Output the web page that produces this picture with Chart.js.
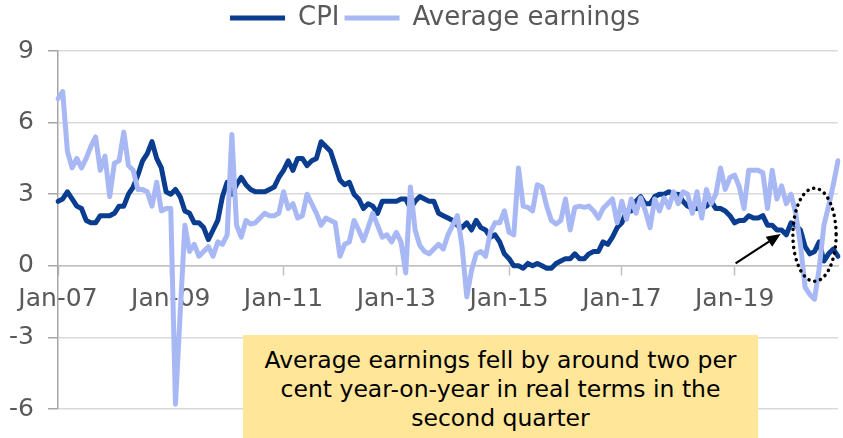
<!DOCTYPE html>
<html>
<head>
<meta charset="utf-8">
<script src="https://cdn.jsdelivr.net/npm/chart.js@4.4.1/dist/chart.umd.min.js"></script>
<style>
html,body{margin:0;padding:0;background:#ffffff;}
#wrap{position:relative;width:843px;height:438px;overflow:hidden;}
#note{position:absolute;left:243px;top:335px;width:515px;height:110px;background:#FFE699;color:#000;
  font-family:"DejaVu Sans",sans-serif;font-size:23.5px;line-height:28.8px;text-align:center;padding-top:11px;box-sizing:border-box;white-space:nowrap;}
</style>
</head>
<body>
<div id="wrap">
  <canvas id="chart" width="843" height="438"></canvas>
  <div id="note">Average earnings fell by around two per<br>cent year-on-year in real terms in the<br>second quarter</div>
</div>
<script>
// ---- data ----
const monthNames = ['Jan','Feb','Mar','Apr','May','Jun','Jul','Aug','Sep','Oct','Nov','Dec'];
const years = ['07','08','09','10','11','12','13','14','15','16','17','18','19','20'];

const cpi = [
  2.7, 2.8, 3.1, 2.8, 2.5, 2.4, 1.9, 1.8, 1.8, 2.1, 2.1, 2.1,   // 2007
  2.2, 2.5, 2.5, 3.0, 3.3, 3.8, 4.4, 4.7, 5.2, 4.5, 4.1, 3.1,   // 2008
  3.0, 3.2, 2.9, 2.3, 2.2, 1.8, 1.8, 1.6, 1.1, 1.5, 1.9, 2.9,   // 2009
  3.5, 3.0, 3.4, 3.7, 3.4, 3.2, 3.1, 3.1, 3.1, 3.2, 3.3, 3.7,   // 2010
  4.0, 4.4, 4.0, 4.5, 4.5, 4.2, 4.4, 4.5, 5.2, 5.0, 4.8, 4.2,   // 2011
  3.6, 3.4, 3.5, 3.0, 2.8, 2.4, 2.6, 2.5, 2.2, 2.7, 2.7, 2.7,   // 2012
  2.7, 2.8, 2.8, 2.4, 2.7, 2.9, 2.8, 2.7, 2.7, 2.2, 2.1, 2.0,   // 2013
  1.9, 1.7, 1.6, 1.8, 1.5, 1.9, 1.6, 1.5, 1.2, 1.3, 1.0, 0.5,   // 2014
  0.3, 0.0, 0.0, -0.1, 0.1, 0.0, 0.1, 0.0, -0.1, -0.1, 0.1, 0.2, // 2015
  0.3, 0.3, 0.5, 0.3, 0.3, 0.5, 0.6, 0.6, 1.0, 0.9, 1.2, 1.6,   // 2016
  1.8, 2.3, 2.3, 2.7, 2.9, 2.6, 2.6, 2.9, 3.0, 3.0, 3.1, 3.0,   // 2017
  3.0, 2.7, 2.5, 2.4, 2.4, 2.4, 2.5, 2.7, 2.4, 2.4, 2.3, 2.1,   // 2018
  1.8, 1.9, 1.9, 2.1, 2.0, 2.0, 2.1, 1.7, 1.7, 1.5, 1.5, 1.3,   // 2019
  1.8, 1.7, 1.5, 0.8, 0.5, 0.6, 1.0, 0.2, 0.5, 0.7, 0.4         // 2020
];

const earnings = [
  7.0, 7.3, 4.8, 4.1, 4.5, 4.1, 4.5, 5.0, 5.4, 4.0, 4.6, 2.9,   // 2007
  4.3, 4.4, 5.6, 4.2, 4.0, 3.2, 3.2, 3.1, 2.5, 3.5, 2.3, 2.4,   // 2008
  2.4, -5.8, -2.0, 1.7, 0.6, 0.9, 0.4, 0.6, 0.8, 0.4, 1.0, 0.9, // 2009
  1.3, 5.5, 1.7, 1.2, 1.9, 1.75, 1.8, 2.0, 2.2, 2.1, 2.1, 2.2,  // 2010
  3.1, 2.4, 2.6, 2.0, 2.1, 3.0, 2.6, 2.2, 1.7, 2.0, 1.9, 1.8,   // 2011
  0.4, 0.9, 1.0, 1.9, 1.5, 1.05, 1.6, 2.2, 1.7, 1.2, 1.3, 1.0,  // 2012
  1.4, 1.0, -0.3, 3.3, 1.5, 0.85, 0.6, 0.5, 0.7, 0.9, 0.7, 1.3, // 2013
  1.7, 2.1, 0.8, -1.3, -0.2, 0.5, 0.6, 0.4, 1.4, 1.8, 1.8, 2.3, // 2014
  1.4, 1.3, 4.1, 2.5, 2.45, 2.3, 3.4, 3.3, 2.5, 1.9, 1.75, 1.9, // 2015
  2.8, 1.5, 2.45, 2.5, 2.45, 2.5, 2.3, 2.0, 2.4, 2.6, 2.8, 1.8, // 2016
  2.7, 1.95, 2.8, 2.2, 2.85, 2.3, 1.6, 2.8, 2.3, 2.85, 2.45, 3.1, // 2017
  2.6, 3.1, 3.0, 2.2, 3.1, 2.0, 3.2, 2.6, 3.0, 4.1, 3.2, 3.7,   // 2018
  3.8, 3.3, 2.4, 4.0, 4.0, 4.0, 3.9, 2.4, 4.0, 2.8, 3.35, 2.6,  // 2019
  3.0, 2.2, 0.9, -0.9, -1.2, -1.4, -0.1, 1.7, 2.5, 3.4, 4.4     // 2020
];

const xTickLabels = ['Jan-07','Jan-09','Jan-11','Jan-13','Jan-15','Jan-17','Jan-19'];
const yMin = -6, yMax = 9, yStep = 3;

// month categories Jan-07 ... (as many as data points)
const categories = [];
years.forEach(y => monthNames.forEach(m => categories.push(m + '-' + y)));
categories.length = cpi.length;

// ---- styling ----
const FONT = '"DejaVu Sans", sans-serif';
const TEXT = '#595959';
const CPI_COLOR = '#0A3C8F';
const AE_COLOR = '#A8B8F4';

// annotation anchors (category index, value)
const arrowFrom = {m: 144.2, v: 0.1};
const arrowTo = {m: 153.8, v: 1.33};
const ring = {m: 161.0, v: 1.3, dm: 4.6, dv: 1.95};

const legendBox = {
  id: 'legendBox',
  beforeInit(chart) {
    const orig = chart.legend.fit;
    chart.legend.fit = function () { orig.call(this); this.height = 51; };
  },
  beforeDraw(chart) {
    chart.legend.left = 32;   // centre the legend over the plot as in the reference
  }
};

const annotate = {
  id: 'annotate',
  afterDatasetsDraw(chart) {
    const {ctx} = chart;
    const x = chart.scales.x, y = chart.scales.y;
    ctx.save();
    // arrow
    const x1 = x.getPixelForValue(arrowFrom.m), y1 = y.getPixelForValue(arrowFrom.v);
    const x2 = x.getPixelForValue(arrowTo.m), y2 = y.getPixelForValue(arrowTo.v);
    const ang = Math.atan2(y2 - y1, x2 - x1);
    const hl = 14, hw = 6;
    const bx = x2 - hl * Math.cos(ang), by = y2 - hl * Math.sin(ang);
    ctx.strokeStyle = '#000'; ctx.fillStyle = '#000'; ctx.lineWidth = 2.2;
    ctx.beginPath(); ctx.moveTo(x1, y1); ctx.lineTo(bx, by); ctx.stroke();
    ctx.beginPath();
    ctx.moveTo(x2, y2);
    ctx.lineTo(bx + hw * Math.sin(ang), by - hw * Math.cos(ang));
    ctx.lineTo(bx - hw * Math.sin(ang), by + hw * Math.cos(ang));
    ctx.closePath(); ctx.fill();
    // dotted ellipse
    const cx = x.getPixelForValue(ring.m), cy = y.getPixelForValue(ring.v);
    const rx = x.getPixelForValue(ring.m + ring.dm) - cx;
    const ry = cy - y.getPixelForValue(ring.v + ring.dv);
    ctx.setLineDash([0.1, 6]); ctx.lineCap = 'round'; ctx.lineWidth = 3.5;
    ctx.beginPath(); ctx.ellipse(cx, cy, rx, ry, 0, 0, Math.PI * 2); ctx.stroke();
    ctx.restore();
  }
};

new Chart(document.getElementById('chart'), {
  type: 'line',
  data: {
    labels: categories,
    datasets: [
      {label: 'CPI', data: cpi, borderColor: CPI_COLOR, backgroundColor: CPI_COLOR, borderWidth: 5,
       pointRadius: 0, tension: 0, borderCapStyle: 'round', borderJoinStyle: 'round', order: 1},
      {label: 'Average earnings', data: earnings, borderColor: AE_COLOR, backgroundColor: AE_COLOR, borderWidth: 5,
       pointRadius: 0, tension: 0, borderCapStyle: 'round', borderJoinStyle: 'round', order: 0}
    ]
  },
  options: {
    responsive: false,
    animation: false,
    devicePixelRatio: 1,
    layout: {padding: {left: 0, right: 5, top: 0, bottom: 27}},
    plugins: {
      legend: {
        position: 'top',
        labels: {
          usePointStyle: true, pointStyle: 'line', pointStyleWidth: 55,
          font: {family: FONT, size: 26}, color: TEXT, padding: 5,
          sort: (a, b) => a.datasetIndex - b.datasetIndex
        }
      },
      tooltip: {enabled: false}
    },
    scales: {
      x: {
        type: 'category',
        position: {y: 0},
        grid: {drawOnChartArea: false, drawTicks: true, tickLength: 9, tickColor: '#BFBFBF', tickWidth: 1.5},
        border: {display: true, color: '#BFBFBF', width: 1.5},
        ticks: {
          autoSkip: false, maxRotation: 0, minRotation: 0, padding: 10,
          font: {family: FONT, size: 25}, color: TEXT,
          callback: function (v) { return this.getLabelForValue(v); }
        },
        afterBuildTicks: (s) => { s.ticks = s.ticks.filter(t => xTickLabels.includes(categories[t.value])); },
        afterFit: (s) => { s.paddingLeft = 0; s.paddingRight = 0; }
      },
      y: {
        min: yMin, max: yMax,
        ticks: {stepSize: yStep, font: {family: FONT, size: 25}, color: TEXT, padding: 14},
        grid: {color: '#D9D9D9', lineWidth: 1.5, tickLength: 10, tickColor: '#A6A6A6'},
        border: {color: '#A6A6A6', width: 1.5},
        afterFit: (s) => { s.width = 58; }
      }
    }
  },
  plugins: [legendBox, annotate]
});
</script>
</body>
</html>
